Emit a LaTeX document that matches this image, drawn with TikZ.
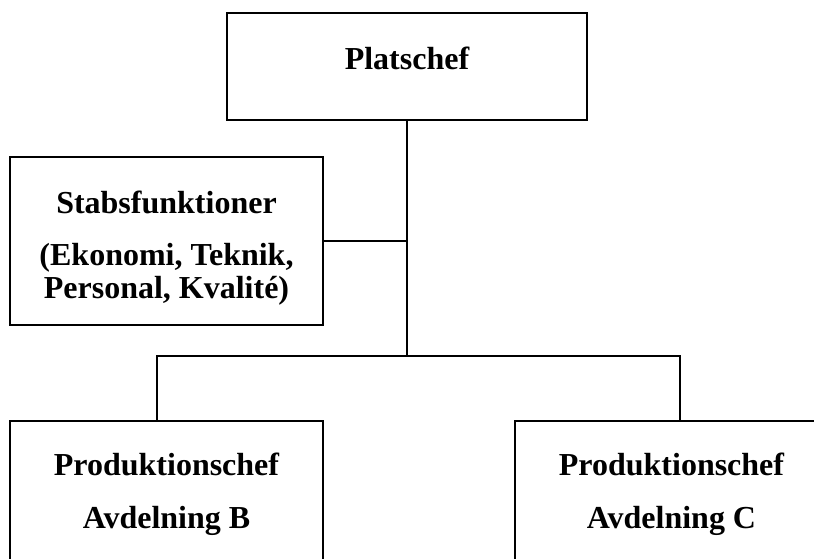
\documentclass[tikz,border=0pt]{standalone}
\usepackage{fontspec}
\setmainfont{Liberation Serif}
\begin{document}
\begin{tikzpicture}[
    x=1pt, y=-1pt,
    box/.style={draw, line width=1.3pt, inner sep=0pt, align=center,
                font=\fontsize{32}{33}\selectfont\bfseries},
    prod/.style={box, minimum width=313pt, minimum height=146pt,
                 font=\fontsize{32}{53}\selectfont\bfseries,
                 text height=75pt, text depth=7pt},
    conn/.style={line width=1.3pt}
  ]
    \useasboundingbox (0,0) rectangle (814,559);
    \clip (0,0) rectangle (814,559);

    \node[box, minimum width=360pt, minimum height=107pt,
          text height=22pt, text depth=15pt] (plats) at (407,66.5) {Platschef};
    \node[box, minimum width=313pt, minimum height=168pt,
          text height=121pt, text depth=7pt] (stab) at (166.5,241)
          {Stabsfunktioner\\[19pt](Ekonomi, Teknik,\\Personal, Kvalité)};
    \node[prod] (prodB) at (166.5,494) {Produktionschef\\Avdelning B};
    \node[prod] (prodC) at (671.5,494) {Produktionschef\\Avdelning C};

    \coordinate (split) at (407,356);
    \coordinate (left)  at (157,356);
    \coordinate (right) at (680,356);

    \draw[conn] (plats.south) -- (split);
    \draw[conn] (stab.east) -- (stab.east -| plats.south);
    \draw[conn] (left |- prodB.north) -- (left) -- (right) -- (right |- prodC.north);
  \end{tikzpicture}
\end{document}
